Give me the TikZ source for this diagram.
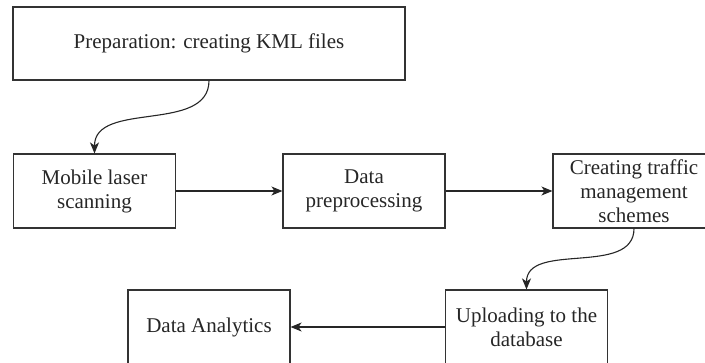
\documentclass[tikz,border=0pt]{standalone}
\usepackage{fontspec}
\setmainfont{Liberation Serif}
\usetikzlibrary{arrows.meta,positioning}
\tikzset{
  stepbox/.style={draw=black!80, line width=1.1pt, minimum width=162pt, minimum height=74pt, align=center, inner sep=2pt, text=black!85, font=\fontsize{21}{24}\selectfont},
  widebox/.style={stepbox, minimum width=392pt, minimum height=73pt},
  cline/.style={-{Stealth[length=11pt,width=9pt,inset=3pt]}, line width=1.1pt, draw=black!85},
}
\begin{document}
\begin{tikzpicture}[x=1pt,y=1pt]
  \useasboundingbox (0,0) rectangle (705,-363);
  \node[widebox] (prep) at (209,-43.5) {Preparation: creating KML files};
  \node[stepbox] (mls) at (94.5,-191) {Mobile laser\\scanning};
  \node[stepbox] (pre) at (364,-191) {Data\\preprocessing};
  \node[stepbox] (tms) at (634,-191) {Creating traffic\\management\\schemes};
  \node[stepbox] (upl) at (526.5,-327) {Uploading to the\\database};
  \node[stepbox] (ana) at (209,-327) {Data Analytics};
  \draw[cline] (prep.south) to[out=-90,in=90] (mls.north);
  \draw[cline] (mls.east) -- (pre.west);
  \draw[cline] (pre.east) -- (tms.west);
  \draw[cline] (tms.south) to[out=-90,in=90] (upl.north);
  \draw[cline] (upl.west) -- (ana.east);
\end{tikzpicture}
\end{document}
